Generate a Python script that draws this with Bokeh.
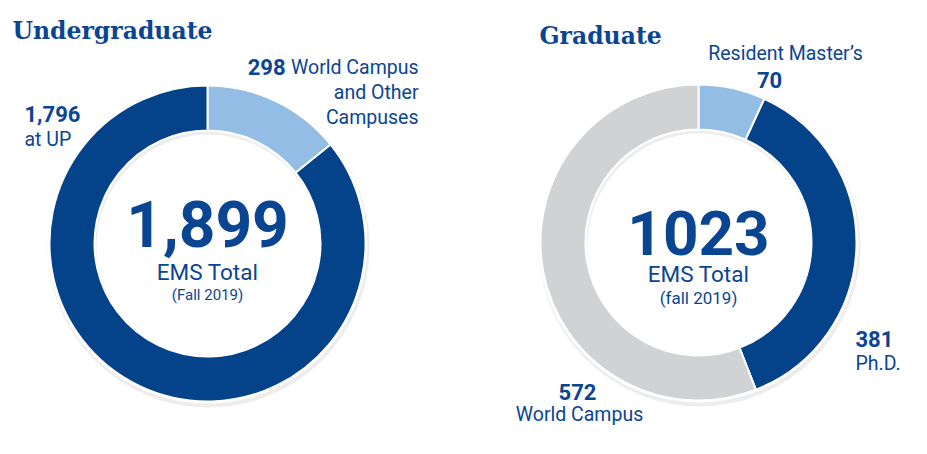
import numpy as np
from bokeh.plotting import figure
from bokeh.models import ColumnDataSource
from bokeh.core.properties import value
from bokeh.embed import file_html
from bokeh.resources import INLINE

# ---- data ----
ug_labels = ["World Campus and Other Campuses", "at UP"]
ug_values = [298, 1796]
ug_colors = ["#93bde5", "#04428a"]
ug_total = "1,899"

gr_labels = ["Resident Master\u2019s", "Ph.D.", "World Campus"]
gr_values = [70, 381, 572]
gr_colors = ["#93bde5", "#04428a", "#d1d2d4"]
gr_total = "1023"

W, H = 927, 454
p = figure(width=W, height=H, x_range=(0, W), y_range=(H, 0),
           output_backend="svg", toolbar_location=None, min_border=0)
p.axis.visible = False
p.grid.visible = False
p.outline_line_color = None
p.background_fill_color = "white"
p.border_fill_color = "white"

BLUE = "#0a4592"
FONT = "Roboto"
TFONT = "DejaVu Serif"

def donut(cx, cy, vals, cols):
    v = np.array(vals, dtype=float)
    frac = v / v.sum()
    ends = np.cumsum(frac)
    starts = ends - frac
    # clockwise from the top
    start_a = np.pi / 2 - starts * 2 * np.pi
    end_a = np.pi / 2 - ends * 2 * np.pi
    src = ColumnDataSource(dict(x=[cx] * len(v), y=[cy] * len(v),
                                start=list(start_a), end=list(end_a), color=cols))
    # soft shadow + white rim
    p.annulus(x=cx + 1, y=cy + 3, inner_radius=112, outer_radius=161,
              fill_color="#000000", fill_alpha=0.07, line_color=None)
    p.annulus(x=cx, y=cy, inner_radius=112, outer_radius=160,
              fill_color="white", line_color=None)
    p.annular_wedge(x="x", y="y", inner_radius=113, outer_radius=158,
                    start_angle="start", end_angle="end", direction="clock",
                    fill_color="color", line_color="white", line_width=2,
                    source=src)

donut(207, 243, ug_values, ug_colors)
donut(698, 242, gr_values, gr_colors)

def txt(x, y, s, size, bold=False, align="left", font=FONT, color=BLUE):
    p.text(x=[x], y=[y], text=[s], text_font=value(font),
           text_font_size=f"{size}px", text_font_style="bold" if bold else "normal",
           text_color=color, text_align=align, text_baseline="middle")

LS = 19.5   # label size
NS = 22     # bold number size

# titles
txt(12, 30, "Undergraduate", 23.5, bold=True, font=TFONT)
txt(539, 35, "Graduate", 23.5, bold=True, font=TFONT)

# undergrad labels
txt(285, 66, str(ug_values[0]), NS, bold=True, align="right")
txt(418, 67, "World Campus", LS, align="right")
txt(418, 92, "and Other", LS, align="right")
txt(418, 117, "Campuses", LS, align="right")
txt(24, 113, f"{ug_values[1]:,}", NS, bold=True)
txt(24, 139, ug_labels[1], LS)

# undergrad center
txt(207, 223, ug_total, 64, bold=True, align="center")
txt(207, 271, "EMS Total", 22.5, align="center")
txt(207, 294, "(Fall 2019)", 15, align="center")

# graduate labels
txt(785, 53, gr_labels[0], LS, align="center")
txt(769, 79, str(gr_values[0]), NS, bold=True, align="center")
txt(855, 338, str(gr_values[1]), NS, bold=True)
txt(855, 363, gr_labels[1], LS)
txt(577, 391, str(gr_values[2]), NS, bold=True, align="center")
txt(579, 414, gr_labels[2], LS, align="center")

# graduate center
txt(698, 232, gr_total, 62, bold=True, align="center")
txt(698, 273, "EMS Total", 22.5, align="center")
txt(698, 297, "(fall 2019)", 17, align="center")

open("out.html", "w").write(file_html(p, INLINE))
